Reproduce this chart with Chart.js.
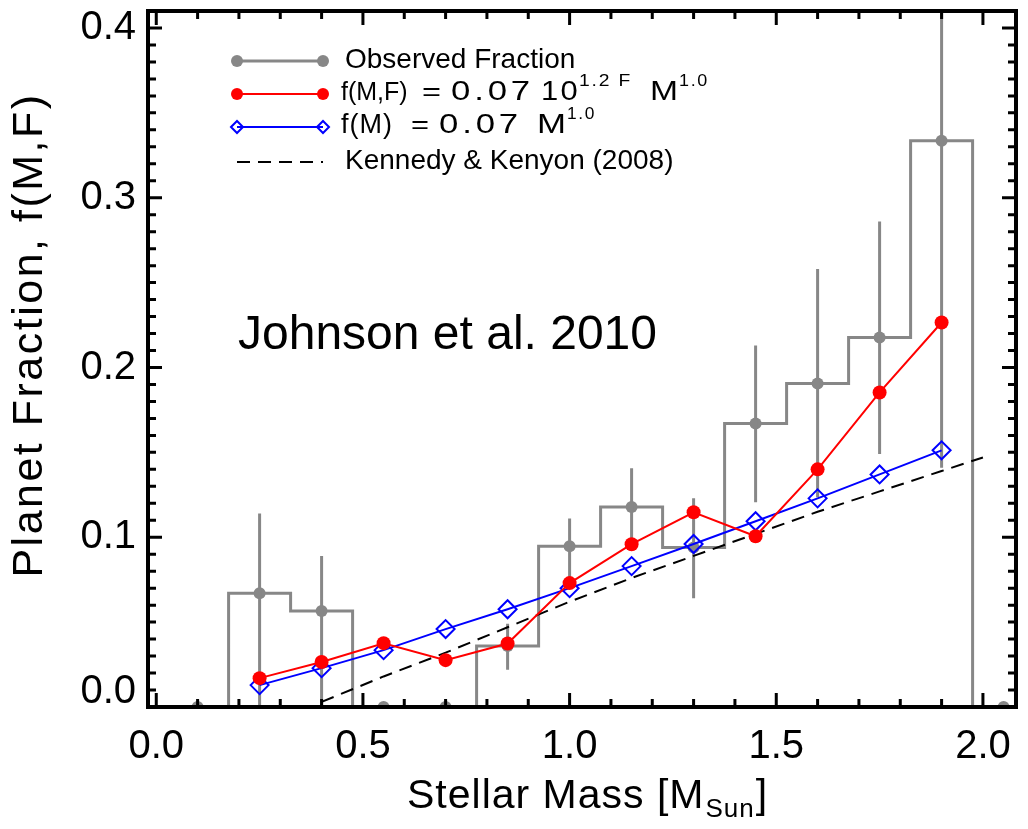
<!DOCTYPE html>
<html>
<head>
<meta charset="utf-8">
<script src="https://cdn.jsdelivr.net/npm/chart.js@4/dist/chart.umd.min.js"></script>
<style>
html, body { margin: 0; padding: 0; background: #fff; }
#wrap { width: 1028px; height: 829px; }
</style>
</head>
<body>
<div id="wrap"><canvas id="chart" width="1028" height="829"></canvas></div>
<script>
"use strict";

// observed fraction, one value per mass bin
let massBins = [0.1, 0.25, 0.4, 0.55, 0.7, 0.85, 1.0, 1.15, 1.3, 1.45, 1.6, 1.75, 1.9, 2.05];
let observed = [0, 0.067, 0.0565, 0, 0, 0.036, 0.0947, 0.1178, 0.094, 0.167, 0.1906, 0.2176, 0.3335, 0];
let errLow  = [null, 0, 0, null, null, 0.022, 0.073, 0.095, 0.064, 0.1206, 0.1235, 0.149, 0.141, null];
let errHigh = [null, 0.114, 0.089, null, null, 0.049, 0.111, 0.1406, 0.123, 0.213, 0.258, 0.286, 0.45, null];

// model fits
let fitMass = [0.25, 0.4, 0.55, 0.7, 0.85, 1.0, 1.15, 1.3, 1.45, 1.6, 1.75, 1.9];
let fitMF   = [0.017, 0.0265, 0.0376, 0.0276, 0.0374, 0.073, 0.0959, 0.1147, 0.1006, 0.14, 0.1853, 0.2265];
let fitM    = [0.0129, 0.0229, 0.0335, 0.0459, 0.0576, 0.07, 0.083, 0.096, 0.1094, 0.1229, 0.137, 0.1512];

// Kennedy & Kenyon (2008)
let kkMass = [0.4, 0.55, 0.7, 0.85, 1.0, 1.15, 1.3, 1.45, 1.6, 1.75, 1.9, 2.0];
let kkFrac = [0.003, 0.018, 0.032, 0.047, 0.062, 0.076, 0.089, 0.102, 0.115, 0.127, 0.139, 0.147];

let xTicks = [0.0, 0.5, 1.0, 1.5, 2.0];
let yTicks = [0.0, 0.1, 0.2, 0.3, 0.4];

const FONT = "'Liberation Sans', Arial, Helvetica, sans-serif";
const GRAY = "#878787";

Chart.defaults.color = "#000";
Chart.defaults.font.family = FONT;

function pts(xs, ys) {
    return xs.map(function (x, i) { return { x: x, y: ys[i] }; });
}

let errData = [];
massBins.forEach(function (m, i) {
    if (errLow[i] === null) return;
    errData.push({ x: m, y: errLow[i] }, { x: m, y: errHigh[i] }, { x: m, y: null });
});

function dot(ctx, x, y, r, col) {
    ctx.beginPath();
    ctx.arc(x, y, r, 0, Math.PI * 2);
    ctx.fillStyle = col;
    ctx.fill();
}

function diamond(ctx, x, y, r, col) {
    ctx.beginPath();
    ctx.moveTo(x - r, y); ctx.lineTo(x, y - r); ctx.lineTo(x + r, y); ctx.lineTo(x, y + r);
    ctx.closePath();
    ctx.strokeStyle = col;
    ctx.lineWidth = 2;
    ctx.stroke();
}

function legendLine(ctx, y, col, width, dash) {
    ctx.beginPath();
    ctx.setLineDash(dash || []);
    ctx.moveTo(237, y); ctx.lineTo(323, y);
    ctx.strokeStyle = col;
    ctx.lineWidth = width;
    ctx.stroke();
    ctx.setLineDash([]);
}

// text piece, with optional extra letter spacing
function txt(ctx, s, x, y, size, sp) {
    ctx.font = size + "px " + FONT;
    ctx.letterSpacing = (sp || 0) + "px";
    ctx.fillText(s, x, y);
    let w = ctx.measureText(s).width;
    ctx.letterSpacing = "0px";
    return w;
}

// text piece spaced out and stretched to span x0..x1 (the legend formula font is wide)
function fitTxt(ctx, s, x0, x1, y, size, sp) {
    ctx.font = size + "px " + FONT;
    ctx.letterSpacing = (sp || 0) + "px";
    let w = ctx.measureText(s).width;
    ctx.save();
    ctx.translate(x0, y);
    ctx.scale((x1 - x0) / w, 1);
    ctx.fillText(s, 0, 0);
    ctx.restore();
    ctx.letterSpacing = "0px";
}

const framePlugin = {
    id: "frame",
    afterDatasetsDraw(chart) {
        let ctx = chart.ctx, a = chart.chartArea;
        let xs = chart.scales.x, ys = chart.scales.y;
        ctx.save();
        ctx.strokeStyle = "#000";
        ctx.lineWidth = 3;
        ctx.beginPath();
        for (let i = 0; i <= 20; i++) {
            let px = xs.getPixelForValue(i / 10);
            let len = (i % 5 === 0) ? 14 : 8;
            ctx.moveTo(px, a.bottom); ctx.lineTo(px, a.bottom - len);
            ctx.moveTo(px, a.top); ctx.lineTo(px, a.top + len);
        }
        for (let i = 0; i <= 41; i++) {
            let py = ys.getPixelForValue(i / 100);
            let len = (i % 10 === 0) ? 14 : 8;
            ctx.moveTo(a.left, py); ctx.lineTo(a.left + len, py);
            ctx.moveTo(a.right, py); ctx.lineTo(a.right - len, py);
        }
        ctx.stroke();
        ctx.lineWidth = 4;
        ctx.strokeRect(a.left, a.top, a.right - a.left, a.bottom - a.top);

        // y tick labels, the lowest one kept inside the frame
        ctx.fillStyle = "#000";
        ctx.font = "40px " + FONT;
        ctx.textAlign = "right";
        ctx.textBaseline = "middle";
        yTicks.forEach(function (v) {
            let py = Math.min(ys.getPixelForValue(v), a.bottom - 15);
            ctx.fillText(v.toFixed(1), a.left - 12, py);
        });
        ctx.restore();
    },
    afterDraw(chart) {
        let ctx = chart.ctx;
        ctx.save();
        ctx.fillStyle = "#000";
        ctx.textBaseline = "alphabetic";

        // axis titles
        let w = txt(ctx, "Stellar Mass [M", 407, 808, 41, 1);
        let w2 = txt(ctx, "Sun", 407 + w + 1, 817, 26, 1);
        txt(ctx, "]", 407 + w + w2 + 2, 808, 41, 1);

        ctx.save();
        ctx.translate(42, 335);
        ctx.rotate(-Math.PI / 2);
        ctx.textAlign = "center";
        txt(ctx, "Planet Fraction, f(M,F)", 0, 0, 43, 2.5);
        ctx.restore();

        // annotation
        txt(ctx, "Johnson et al. 2010", 238, 349, 48);

        // legend
        legendLine(ctx, 61, GRAY, 3);
        dot(ctx, 237, 61, 6, GRAY); dot(ctx, 323, 61, 6, GRAY);
        ctx.fillStyle = "#000";
        txt(ctx, "Observed Fraction", 345, 68, 28);

        legendLine(ctx, 94, "#ff0000", 2);
        dot(ctx, 237, 94, 6, "#ff0000"); dot(ctx, 323, 94, 6, "#ff0000");
        ctx.fillStyle = "#000";
        txt(ctx, "f(M,F)", 341, 100, 25);
        fitTxt(ctx, "=", 422, 441, 100, 26);
        fitTxt(ctx, "0.07", 451, 534, 100, 27, 3);
        fitTxt(ctx, "10", 541, 580, 100, 27, 2);
        fitTxt(ctx, "1.2 F", 579, 632, 86, 16, 1.5);
        fitTxt(ctx, "M", 650, 678, 100, 27);
        fitTxt(ctx, "1.0", 679, 709, 86, 16, 1.5);

        legendLine(ctx, 127, "#0000ff", 2);
        diamond(ctx, 237, 127, 6, "#0000ff"); diamond(ctx, 323, 127, 6, "#0000ff");
        ctx.fillStyle = "#000";
        txt(ctx, "f(M)", 341, 133, 27, 1);
        fitTxt(ctx, "=", 411, 429, 133, 26);
        fitTxt(ctx, "0.07", 439, 522, 133, 27, 3);
        fitTxt(ctx, "M", 537, 566, 133, 27);
        fitTxt(ctx, "1.0", 567, 596, 119, 16, 1.5);

        legendLine(ctx, 162, "#000", 2, [13, 8]);
        ctx.fillStyle = "#000";
        txt(ctx, "Kennedy & Kenyon (2008)", 345, 169, 28);
        ctx.restore();
    }
};

new Chart(document.getElementById("chart"), {
    type: "line",
    data: {
        datasets: [
            {
                label: "f(M,F)",
                data: pts(fitMass, fitMF),
                borderColor: "#ff0000",
                borderWidth: 2,
                pointRadius: 7,
                pointBorderWidth: 0,
                pointBackgroundColor: "#ff0000",
                order: 0,
                clip: 0
            },
            {
                label: "f(M)",
                data: pts(fitMass, fitM),
                borderColor: "#0000ff",
                borderWidth: 2,
                pointStyle: "rectRot",
                pointRadius: 9,
                pointBorderWidth: 2,
                pointBorderColor: "#0000ff",
                pointBackgroundColor: "rgba(0,0,0,0)",
                order: 1,
                clip: 0
            },
            {
                label: "Kennedy & Kenyon (2008)",
                data: pts(kkMass, kkFrac),
                borderColor: "#000",
                borderWidth: 2,
                borderDash: [13, 8],
                pointRadius: 0,
                order: 2,
                clip: 0
            },
            {
                label: "errors",
                data: errData,
                borderColor: GRAY,
                borderWidth: 3,
                pointRadius: 0,
                spanGaps: false,
                order: 3,
                clip: 0
            },
            {
                label: "Observed Fraction",
                data: pts(massBins, observed),
                stepped: "middle",
                borderColor: GRAY,
                borderWidth: 3,
                pointRadius: 6,
                pointBorderWidth: 0,
                pointBackgroundColor: GRAY,
                order: 4,
                clip: 0
            }
        ]
    },
    options: {
        responsive: false,
        animation: false,
        layout: { padding: { top: 10, right: 12, left: 0, bottom: 0 } },
        plugins: { legend: { display: false }, tooltip: { enabled: false } },
        scales: {
            x: {
                type: "linear",
                min: -0.02,
                max: 2.08,
                afterBuildTicks: function (s) { s.ticks = xTicks.map(function (v) { return { value: v }; }); },
                afterFit: function (s) { s.height = 122; s.paddingLeft = 0; s.paddingRight = 0; },
                grid: { display: false, drawTicks: false },
                border: { display: false },
                ticks: {
                    font: { size: 40 },
                    padding: 16,
                    maxRotation: 0,
                    autoSkip: false,
                    callback: function (v) { return v.toFixed(1); }
                }
            },
            y: {
                type: "linear",
                min: 0,
                max: 0.41,
                afterBuildTicks: function (s) { s.ticks = yTicks.map(function (v) { return { value: v }; }); },
                afterFit: function (s) { s.width = 148; s.paddingTop = 0; s.paddingBottom = 0; },
                grid: { display: false, drawTicks: false },
                border: { display: false },
                ticks: { display: false }
            }
        }
    },
    plugins: [framePlugin]
});
</script>
</body>
</html>
